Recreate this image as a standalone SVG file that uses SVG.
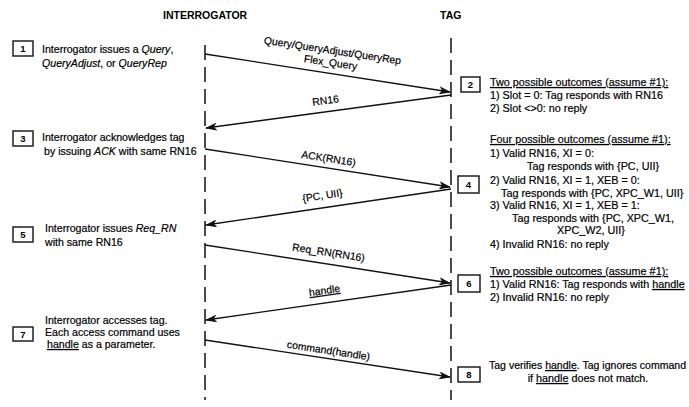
<svg xmlns="http://www.w3.org/2000/svg" width="689" height="407" viewBox="0 0 689 407">
  <style>
    text { font-family: "Liberation Sans", Arial, sans-serif; fill: #000; stroke: #000; stroke-width: 0.2; }
    .hdr { font-size: 10.5px; font-weight: bold; stroke-width: 0; }
    .txt { font-size: 10.6px; }
    .rt { font-size: 10.8px; }
    .lbl { font-size: 10.4px; }
    .num { font-size: 9.5px; font-weight: bold; text-anchor: middle; stroke-width: 0; }
    .box { fill: #fff; stroke: #111; stroke-width: 1.4; }
    .life { stroke: #111; stroke-width: 1.5; stroke-dasharray: 15 7; fill: none; }
    .msg { stroke: #111; stroke-width: 1.4; fill: none; marker-end: url(#head); }
    .u { text-decoration: underline; }
    .i { font-style: italic; }
  </style>
  <defs>
    <marker id="head" viewBox="0 0 12 8" refX="11" refY="4" markerWidth="12" markerHeight="8" markerUnits="userSpaceOnUse" orient="auto">
      <path d="M0,0 L12,4 L0,8 L3,4 Z" fill="#111"/>
    </marker>
  </defs>

  <rect width="689" height="407" fill="#fff"/>

  <!-- column headers -->
  <text class="hdr" x="163" y="19">INTERROGATOR</text>
  <text class="hdr" x="440" y="19">TAG</text>

  <!-- lifelines -->
  <g id="lifelines">
    <line class="life" x1="205" y1="45" x2="205" y2="400"/>
    <line class="life" x1="451" y1="38" x2="451" y2="400"/>
  </g>

  <!-- messages -->
  <g id="connectors">
    <line class="msg" x1="205" y1="54" x2="450" y2="92"/>
    <line class="msg" x1="451" y1="95" x2="206" y2="128"/>
    <line class="msg" x1="205" y1="149" x2="450" y2="187"/>
    <line class="msg" x1="451" y1="189" x2="206" y2="225"/>
    <line class="msg" x1="205" y1="245" x2="450" y2="283"/>
    <line class="msg" x1="451" y1="285" x2="206" y2="320"/>
    <line class="msg" x1="205" y1="340" x2="450" y2="377"/>

    <text class="lbl" text-anchor="middle" transform="translate(332,54) rotate(8.6)">Query/QueryAdjust/QueryRep</text>
    <text class="lbl" text-anchor="middle" transform="translate(330,66) rotate(8.6)">Flex_Query</text>
    <text class="lbl" text-anchor="middle" transform="translate(326,104) rotate(-7.6)">RN16</text>
    <text class="lbl" text-anchor="middle" transform="translate(328,162) rotate(8.8)">ACK(RN16)</text>
    <text class="lbl" text-anchor="middle" transform="translate(323,199) rotate(-8.3)">{PC, UII}</text>
    <text class="lbl" text-anchor="middle" transform="translate(328,256) rotate(8.8)">Req_RN(RN16)</text>
    <text class="lbl u" text-anchor="middle" transform="translate(325,294) rotate(-8.1)">handle</text>
    <text class="lbl" text-anchor="middle" transform="translate(328,354) rotate(8.6)">command(handle)</text>
  </g>

  <!-- interrogator steps -->
  <g id="step1">
    <rect class="box" x="13" y="41" width="20" height="15"/>
    <text class="num" x="23" y="52">1</text>
    <text class="txt" x="42" y="53">Interrogator issues a <tspan class="i">Query</tspan>,</text>
    <text class="txt" x="42" y="67"><tspan class="i">QueryAdjust</tspan>, or <tspan class="i">QueryRep</tspan></text>
  </g>
  <g id="step3">
    <rect class="box" x="13" y="131" width="20" height="15"/>
    <text class="num" x="23" y="142">3</text>
    <text class="txt" x="42" y="141">Interrogator acknowledges tag</text>
    <text class="txt" x="44" y="155">by issuing <tspan class="i">ACK</tspan> with same RN16</text>
  </g>
  <g id="step5">
    <rect class="box" x="13" y="227" width="20" height="15"/>
    <text class="num" x="23" y="238">5</text>
    <text class="txt" x="45" y="232">Interrogator issues <tspan class="i">Req_RN</tspan></text>
    <text class="txt" x="45" y="246">with same RN16</text>
  </g>
  <g id="step7">
    <rect class="box" x="13" y="327" width="20" height="14"/>
    <text class="num" x="23" y="338">7</text>
    <text class="txt" x="45" y="324">Interrogator accesses tag.</text>
    <text class="txt" x="45" y="336">Each access command uses</text>
    <text class="txt" x="47" y="348"><tspan class="u">handle</tspan> as a parameter.</text>
  </g>

  <!-- tag steps -->
  <g id="step2">
    <rect class="box" x="461" y="77" width="19" height="15"/>
    <text class="num" x="470.5" y="88">2</text>
    <text class="rt u" x="490" y="86">Two possible outcomes (assume #1):</text>
    <text class="rt" x="490" y="99">1) Slot = 0: Tag responds with RN16</text>
    <text class="rt" x="490" y="112">2) Slot &lt;&gt;0: no reply</text>
  </g>
  <g id="step4">
    <rect class="box" x="458" y="176" width="21" height="17"/>
    <text class="num" x="468.5" y="188">4</text>
    <text class="rt u" x="490" y="143">Four possible outcomes (assume #1):</text>
    <text class="rt" x="490" y="157">1) Valid RN16, XI = 0:</text>
    <text class="rt" x="527" y="170">Tag responds with {PC, UII}</text>
    <text class="rt" x="490" y="184">2) Valid RN16, XI = 1, XEB = 0:</text>
    <text class="rt" x="501" y="197">Tag responds with {PC, XPC_W1, UII}</text>
    <text class="rt" x="490" y="209">3) Valid RN16, XI = 1, XEB = 1:</text>
    <text class="rt" x="512" y="222">Tag responds with {PC, XPC_W1,</text>
    <text class="rt" x="557" y="234">XPC_W2, UII}</text>
    <text class="rt" x="490" y="248">4) Invalid RN16: no reply</text>
  </g>
  <g id="step6">
    <rect class="box" x="458" y="275" width="22" height="17"/>
    <text class="num" x="469" y="287">6</text>
    <text class="rt u" x="490" y="275">Two possible outcomes (assume #1):</text>
    <text class="rt" x="490" y="288">1) Valid RN16: Tag responds with <tspan class="u">handle</tspan></text>
    <text class="rt" x="490" y="301">2) Invalid RN16: no reply</text>
  </g>
  <g id="step8">
    <rect class="box" x="458" y="367" width="22" height="15"/>
    <text class="num" x="469" y="378">8</text>
    <text class="rt" x="489" y="369" textLength="197" lengthAdjust="spacingAndGlyphs">Tag verifies <tspan class="u">handle</tspan>. Tag ignores command</text>
    <text class="rt" x="588" y="382" text-anchor="middle">if <tspan class="u">handle</tspan> does not match.</text>
  </g>
</svg>
